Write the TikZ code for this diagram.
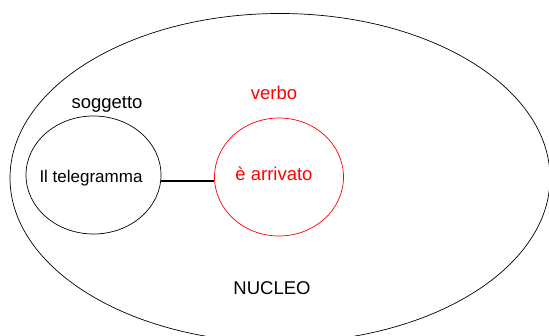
\documentclass[tikz,border=0pt]{standalone}
\usepackage{fontspec}
\setmainfont{Liberation Sans}
\usetikzlibrary{shapes.geometric}
\begin{document}
\begin{tikzpicture}[x=1pt,y=-1pt,
  lbl/.style={inner sep=0pt,font=\fontsize{18.5}{20}\selectfont},
  ell/.style={ellipse,draw,line width=0.7pt,inner sep=0pt}]
\useasboundingbox (0,0) rectangle (549,336);
\node[ell,minimum width=540,minimum height=329] (nucleo) at (280,178) {};
\node[ell,minimum width=135,minimum height=118] (sogg) at (93.5,175) {};
\node[ell,draw=red,minimum width=129,minimum height=118] (verb) at (279,177) {};
\draw[line width=2pt] (sogg.east |- 0,181) -- (verb.west |- 0,181);
\node[lbl,font=\fontsize{17}{19}\selectfont] (t1) at (91,178) {Il telegramma};
\node[lbl,text=red] (t2) at (274,174) {è arrivato};
\node[lbl] (t3) at (107,104) {soggetto};
\node[lbl,text=red] (t4) at (274,93) {verbo};
\node[lbl] (t5) at (272,288) {NUCLEO};
\end{tikzpicture}
\end{document}
